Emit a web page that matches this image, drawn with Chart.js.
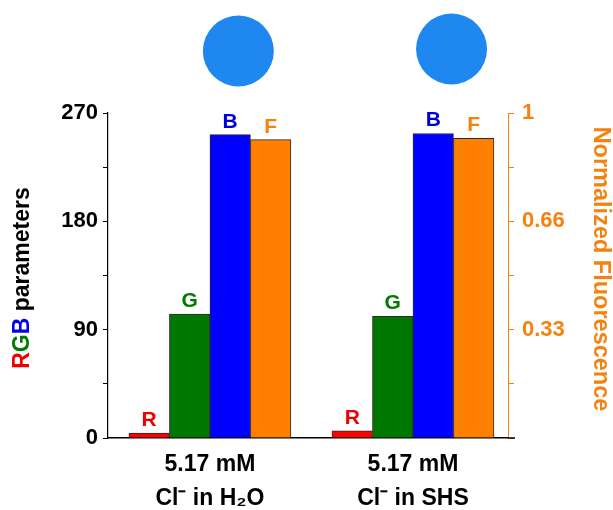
<!DOCTYPE html>
<html>
<head>
<meta charset="utf-8">
<script src="https://cdn.jsdelivr.net/npm/chart.js@4/dist/chart.umd.min.js"></script>
<style>
  html, body { margin: 0; padding: 0; background: #ffffff; }
  canvas { display: block; }
</style>
</head>
<body>
<canvas id="chart" width="613" height="510"></canvas>
<script>
// Sample groups (x positions 0 and 1) and their two-line captions
const groupLabels = [
  ['5.17 mM', 'Cl\u207B in H\u2082O'],
  ['5.17 mM', 'Cl\u207B in SHS']
];
// RGB parameters (left axis, 0-270)
const redValues = [4, 6];
const greenValues = [103, 101];
const blueValues = [252, 253];
// Normalized fluorescence (right axis, 0-1)
const fluorValues = [0.918, 0.922];
// Tick labels
const leftTickLabels = ['0', '90', '180', '270'];
const rightTickLabels = ['0.33', '0.66', '1'];
// Colour of the sample spots shown above each group
const spotColor = '#1e87f0';
const spotX = [0.14, 1.19];

const ORANGE = '#f5820f';
const FONT = '"Liberation Sans", Arial, sans-serif';

function pts(vals) { return vals.map((v, i) => ({ x: i, y: v })); }

const barLetters = {
  id: 'barLetters',
  afterDatasetsDraw(chart) {
    const ctx = chart.ctx;
    ctx.save();
    ctx.font = 'bold 21px ' + FONT;
    ctx.textAlign = 'center';
    ctx.textBaseline = 'alphabetic';
    chart.data.datasets.forEach((ds, di) => {
      const meta = chart.getDatasetMeta(di);
      meta.data.forEach(bar => {
        ctx.fillStyle = ds.letterColor;
        ctx.fillText(ds.label, bar.x, bar.y - 7);
      });
    });
    ctx.restore();
  }
};

const decorations = {
  id: 'decorations',
  afterDraw(chart) {
    const ctx = chart.ctx;
    const area = chart.chartArea;
    const xs = chart.scales.x;
    ctx.save();
    // extend the baseline a little past the right axis
    ctx.strokeStyle = '#000';
    ctx.lineWidth = 1.5;
    ctx.beginPath();
    ctx.moveTo(area.right, area.bottom);
    ctx.lineTo(area.right + 7, area.bottom);
    ctx.stroke();

    // sample spots
    ctx.fillStyle = spotColor;
    spotX.forEach((sx, i) => {
      ctx.beginPath();
      ctx.arc(xs.getPixelForValue(sx), area.top - 62 - i * 2, 35.5, 0, Math.PI * 2);
      ctx.fill();
    });

    // left axis title with coloured R, G, B
    ctx.font = 'bold 23px ' + FONT;
    ctx.textBaseline = 'middle';
    ctx.textAlign = 'left';
    const parts = [['R', '#ee0000'], ['G', '#007a00'], ['B', '#0000ee'], [' parameters', '#000000']];
    const total = parts.reduce((s, p) => s + ctx.measureText(p[0]).width, 0);
    ctx.save();
    ctx.translate(23, 278);
    ctx.rotate(-Math.PI / 2);
    let cx = -total / 2;
    parts.forEach(p => {
      ctx.fillStyle = p[1];
      ctx.fillText(p[0], cx, 0);
      cx += ctx.measureText(p[0]).width;
    });
    ctx.restore();

    // right axis title
    ctx.save();
    ctx.font = 'bold 23.5px ' + FONT;
    ctx.fillStyle = ORANGE;
    ctx.textAlign = 'center';
    ctx.translate(600, 269);
    ctx.rotate(Math.PI / 2);
    ctx.fillText('Normalized Fluorescence', 0, 0);
    ctx.restore();

    ctx.restore();
  }
};

const barCommon = { barThickness: 40.5, borderWidth: 1, borderColor: '#2a2a2a', borderSkipped: 'bottom' };

new Chart(document.getElementById('chart'), {
  type: 'bar',
  data: {
    datasets: [
      Object.assign({ label: 'R', data: pts(redValues), backgroundColor: '#ff0000', letterColor: '#ee0000', yAxisID: 'y' }, barCommon),
      Object.assign({ label: 'G', data: pts(greenValues), backgroundColor: '#007700', letterColor: '#007a00', yAxisID: 'y' }, barCommon),
      Object.assign({ label: 'B', data: pts(blueValues), backgroundColor: '#0000ff', letterColor: '#0000dd', yAxisID: 'y' }, barCommon),
      Object.assign({ label: 'F', data: pts(fluorValues), backgroundColor: '#ff8000', letterColor: ORANGE, yAxisID: 'y1' }, barCommon)
    ]
  },
  options: {
    responsive: false,
    animation: false,
    layout: { padding: { top: 113, left: 0, right: 0, bottom: 0 } },
    plugins: { legend: { display: false }, tooltip: { enabled: false } },
    scales: {
      x: {
        type: 'linear',
        offset: false,
        min: -0.502,
        max: 1.468,
        afterBuildTicks(scale) { scale.ticks = groupLabels.map((_, i) => ({ value: i })); },
        afterFit(scale) { scale.height = 72; },
        grid: { display: false, offset: false },
        border: { display: true, color: '#000', width: 1.5 },
        ticks: {
          callback: (v) => groupLabels[v],
          color: '#000',
          font: { family: FONT, size: 23, weight: 'bold', lineHeight: 1.5 },
          padding: 1,
          maxRotation: 0,
          autoSkip: false
        }
      },
      y: {
        position: 'left',
        min: 0,
        max: 270,
        afterFit(scale) { scale.width = 108; },
        grid: { drawOnChartArea: false, tickLength: 5, color: '#000', tickWidth: 1 },
        border: { display: true, color: '#000', width: 1.2 },
        ticks: {
          stepSize: 45,
          callback: (v) => (v % 90 === 0 ? leftTickLabels[v / 90] : ''),
          color: '#000',
          font: { family: FONT, size: 22, weight: 'bold' },
          padding: 5
        }
      },
      y1: {
        position: 'right',
        min: 0,
        max: 1,
        afterFit(scale) { scale.width = 105; },
        grid: { drawOnChartArea: false, tickLength: 6, color: ORANGE, tickWidth: 1 },
        border: { display: true, color: ORANGE, width: 1 },
        ticks: {
          stepSize: 1 / 6,
          callback: (v) => {
            const k = Math.round(v * 3);
            return (k > 0 && Math.abs(v * 3 - k) < 1e-6) ? rightTickLabels[k - 1] : '';
          },
          color: ORANGE,
          font: { family: FONT, size: 22, weight: 'bold' },
          padding: 8
        }
      }
    }
  },
  plugins: [barLetters, decorations]
});
</script>
</body>
</html>
